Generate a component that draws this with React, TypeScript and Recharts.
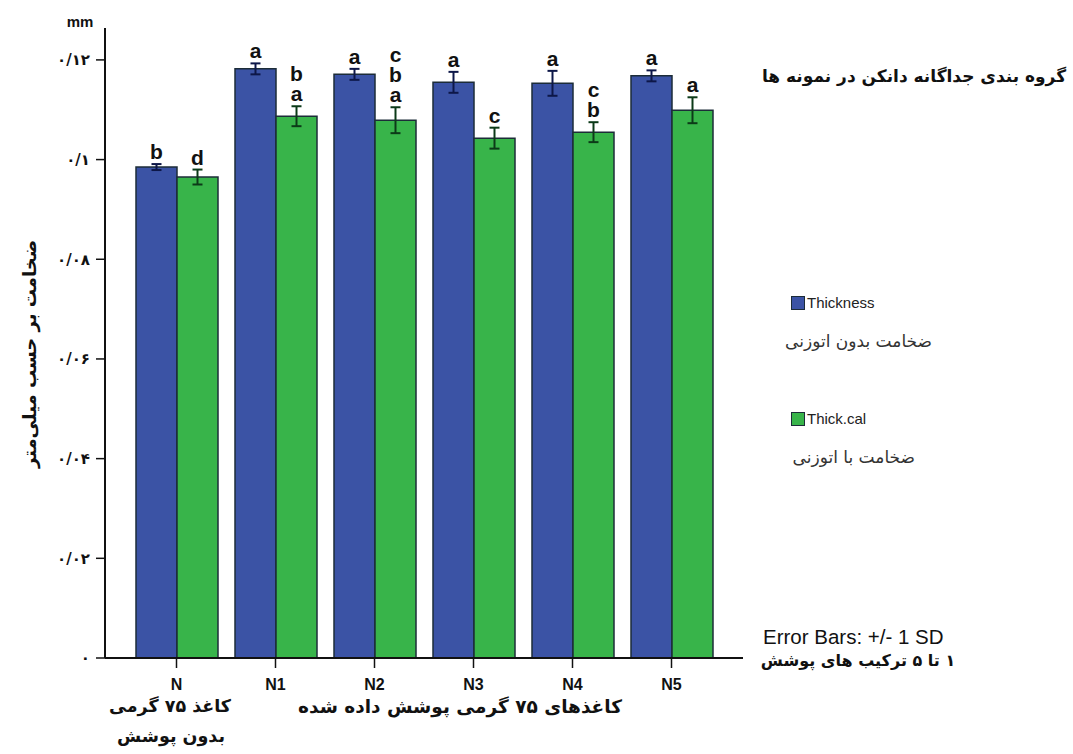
import React from "react";
import { BarChart, Bar, XAxis, YAxis, ErrorBar, Legend } from "recharts";

// samples N (uncoated) and N1..N5 (coatings 1 to 5)
const categories = ["N", "N1", "N2", "N3", "N4", "N5"];
const thickness = [0.0985, 0.1182, 0.1171, 0.1155, 0.1153, 0.1168];
const thicknessSd = [0.0006, 0.0011, 0.0011, 0.0021, 0.0025, 0.0011];
const thickCal = [0.0965, 0.1087, 0.1079, 0.1043, 0.1055, 0.1099];
const thickCalSd = [0.0015, 0.002, 0.0026, 0.0021, 0.002, 0.0026];
// Duncan groups, top line first
const thicknessGroups = ["b", "a", "a", "a", "a", "a"];
const thickCalGroups = ["d", "ba", "cba", "c", "cb", "a"];

const yTicks = [0, 0.02, 0.04, 0.06, 0.08, 0.1, 0.12];
const yTickLabels = ["۰", "۰/۰۲", "۰/۰۴", "۰/۰۶", "۰/۰۸", "۰/۱", "۰/۱۲"];
const yMax = 0.1264;

const seriesNames = ["Thickness", "Thick.cal"];
const legendNotes = ["ضخامت بدون اتوزنی", "ضخامت با اتوزنی"];

const data = categories.map((name, i) => ({
  name,
  thickness: thickness[i],
  thicknessSd: thicknessSd[i],
  thickCal: thickCal[i],
  thickCalSd: thickCalSd[i],
}));

const BLUE = "#3b53a5";
const GREEN = "#38b44a";
const OUTLINE = "#1c2c38";
const LATIN = "'Liberation Sans', Arial, sans-serif";
const FARSI = "'DejaVu Sans', sans-serif";

function groupLabel(values: number[], sds: number[], groups: string[]) {
  return (props: any) => {
    const { x, y, width, height, index } = props;
    if (x == null || index == null) return null;
    const v = values[index];
    const errTop = y - (sds[index] * height) / v;
    const letters = groups[index].split("");
    const n = letters.length;
    const cx = x + width / 2;
    return (
      <text
        x={cx}
        y={errTop - 5 - (n - 1) * 20}
        textAnchor="middle"
        fontFamily={LATIN}
        fontWeight="bold"
        fontSize={21}
        fill="#111"
      >
        {letters.map((ch, k) => (
          <tspan key={k} x={cx} dy={k === 0 ? 0 : 20}>
            {ch}
          </tspan>
        ))}
      </text>
    );
  };
}

function LegendBox({ payload }: any) {
  const items = payload || [];
  return (
    <div style={{ position: "relative", width: 220, height: 190 }}>
      {seriesNames.map((nm, i) => {
        const it = items.find((p: any) => p.value === nm);
        const top = i === 0 ? 8 : 124;
        return (
          <React.Fragment key={nm}>
            <div
              style={{
                position: "absolute",
                left: 11,
                top,
                width: 12,
                height: 12,
                background: it ? it.color : i === 0 ? BLUE : GREEN,
                border: `1px solid ${OUTLINE}`,
              }}
            />
            <div
              style={{
                position: "absolute",
                left: 27,
                top: top - 2,
                fontFamily: LATIN,
                fontSize: 15,
                lineHeight: "17px",
                color: "#222",
              }}
            >
              {nm}
            </div>
            <div
              style={{
                position: "absolute",
                right: i === 0 ? 68 : 85,
                top: top + 36,
                fontFamily: FARSI,
                fontSize: 17,
                lineHeight: "18px",
                color: "#333",
                direction: "rtl",
                whiteSpace: "nowrap",
              }}
            >
              {legendNotes[i]}
            </div>
          </React.Fragment>
        );
      })}
    </div>
  );
}

function Txt({ x, y, anchor = "middle", size = 16, bold = true, font = FARSI, children, rotate }: any) {
  const tx = anchor === "middle" ? "-50%" : anchor === "end" ? "-100%" : "0";
  return (
    <div
      style={{
        position: "absolute",
        left: x,
        top: y,
        transform: `translate(${tx}, -50%)${rotate ? ` rotate(${rotate}deg)` : ""}`,
        transformOrigin: "50% 50%",
        fontFamily: font,
        fontSize: size,
        fontWeight: bold ? "bold" : "normal",
        lineHeight: 1,
        whiteSpace: "nowrap",
        direction: font === FARSI ? "rtl" : "ltr",
        color: "#111",
      }}
    >
      {children}
    </div>
  );
}

export default function App() {
  return (
    <div style={{ position: "absolute", left: 0, top: 0, width: 1073, height: 754, background: "#fff" }}>
      <BarChart
        width={1073}
        height={754}
        data={data}
        margin={{ top: 28, right: 330, left: 45, bottom: 66 }}
        barCategoryGap={9}
        barGap={0}
      >
        <XAxis
          dataKey="name"
          height={30}
          tickSize={10}
          tickMargin={11}
          padding={{ left: 22, right: 22 }}
          axisLine={{ stroke: "#111", strokeWidth: 2 }}
          tickLine={{ stroke: "#111", strokeWidth: 1.5 }}
          tick={{ fill: "#111", fontSize: 16, fontWeight: "bold", fontFamily: LATIN }}
        />
        <XAxis
          xAxisId="top"
          dataKey="name"
          orientation="top"
          height={0}
          tick={false}
          tickLine={false}
          axisLine={{ stroke: "#111", strokeWidth: 2 }}
        />
        <YAxis
          width={60}
          domain={[0, yMax]}
          ticks={yTicks}
          tickFormatter={(v: number) => yTickLabels[yTicks.indexOf(v)] ?? ""}
          tickSize={9}
          tickMargin={6}
          axisLine={{ stroke: "#111", strokeWidth: 2 }}
          tickLine={{ stroke: "#111", strokeWidth: 1.5 }}
          tick={{ fill: "#111", fontSize: 15, fontWeight: "bold", fontFamily: FARSI }}
        />
        <YAxis
          yAxisId="right"
          orientation="right"
          width={0}
          domain={[0, yMax]}
          tick={false}
          tickLine={false}
          axisLine={{ stroke: "#111", strokeWidth: 2 }}
        />
        <Legend
          layout="vertical"
          align="center"
          verticalAlign="middle"
          wrapperStyle={{ left: 780, top: 288, width: 220 }}
          content={<LegendBox />}
        />
        <Bar
          dataKey="thickness"
          name="Thickness"
          fill={BLUE}
          stroke={OUTLINE}
          strokeWidth={1.5}
          isAnimationActive={false}
          label={groupLabel(thickness, thicknessSd, thicknessGroups)}
        >
          <ErrorBar dataKey="thicknessSd" width={5} stroke="#0d1748" strokeWidth={2} />
        </Bar>
        <Bar
          dataKey="thickCal"
          name="Thick.cal"
          fill={GREEN}
          stroke={OUTLINE}
          strokeWidth={1.5}
          isAnimationActive={false}
          label={groupLabel(thickCal, thickCalSd, thickCalGroups)}
        >
          <ErrorBar dataKey="thickCalSd" width={5} stroke="#0c3a18" strokeWidth={2} />
        </Bar>
      </BarChart>

      <Txt x={80} y={21} font={LATIN} size={15}>mm</Txt>
      <Txt x={30} y={354} size={18} rotate={-90}>ضخامت بر حسب میلی‌متر</Txt>
      <Txt x={914} y={76} size={17}>گروه بندی جداگانه دانکن در نمونه ها</Txt>
      <Txt x={170} y={707} size={17.5}>کاغذ ۷۵ گرمی</Txt>
      <Txt x={171} y={737} size={17.5}>بدون پوشش</Txt>
      <Txt x={460} y={707} size={18.5}>کاغذهای ۷۵ گرمی پوشش داده شده</Txt>
      <Txt x={763} y={637} anchor="start" bold={false} font={LATIN} size={20.5}>Error Bars: +/- 1 SD</Txt>
      <Txt x={858} y={661} size={16}>۱ تا ۵ ترکیب های پوشش</Txt>
    </div>
  );
}
